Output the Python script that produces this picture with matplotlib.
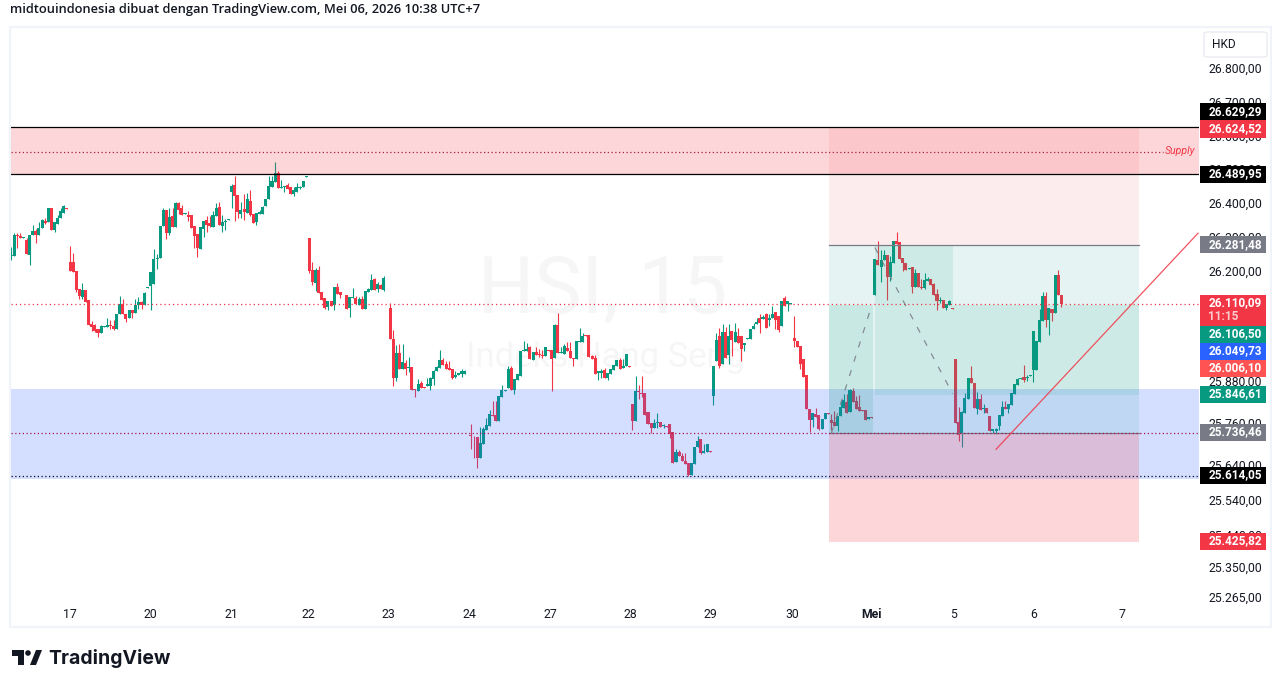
import numpy as np
import matplotlib
matplotlib.use("Agg")
import matplotlib.pyplot as plt
from matplotlib.patches import Rectangle, FancyBboxPatch, Polygon, Ellipse
from matplotlib.transforms import ScaledTranslation

plt.rcParams['font.family'] = ['Roboto', 'DejaVu Sans']

# 15 minute candles
opens = [
    26251, 26251, 26311, 26308, 26304, 26298, 26254, 26312, 26324, 26312,
    26333, 26353, 26350, 26391, 26327, 26344, 26362, 26377, 26391, 26233,
    26233, 26207, 26154, 26131, 26151, 26122, 26052, 26049, 26037, 26026,
    26044, 26044, 26049, 26046, 26037, 26081, 26110, 26081, 26070, 26093,
    26084, 26108, 26116, 26108, 26157, 26163, 26169, 26242, 26245, 26339,
    26385, 26318, 26368, 26336, 26406, 26391, 26374, 26371, 26371, 26339,
    26314, 26271, 26330, 26356, 26347, 26336, 26368, 26394, 26339, 26350,
    26356, 26438, 26459, 26429, 26374, 26388, 26377, 26412, 26374, 26350,
    26374, 26374, 26397, 26418, 26453, 26467, 26494, 26450, 26453, 26459,
    26453, 26432, 26438, 26449, 26453, 26482,
    26303, 26210, 26172, 26210, 26145, 26128, 26102, 26119, 26108, 26160,
    26145, 26137, 26137, 26099, 26128, 26128, 26108, 26125, 26096, 26145,
    26151, 26183, 26154, 26166, 26151, 26163, 26099, 26009, 25895, 25968,
    25921, 25939, 25924, 25927, 25863, 25857, 25881, 25869, 25872, 25872,
    25892, 25916, 25924, 25948, 25936, 25924, 25921, 25898, 25904, 25907,
    25907, 25916, 25732, 25729, 25724, 25665, 25706, 25744, 25756, 25788,
    25788, 25770, 25840, 25857, 25866, 25924, 25860, 25889, 25901, 25974,
    25974, 25984, 25948, 25971, 25963, 25963, 25959, 25977, 25977, 25954,
    26049, 25968, 25965, 25983, 25974,
    25954, 25951, 26000, 26000, 26020, 26020, 25960, 25952, 25911, 25911,
    25917, 25894, 25906, 25917, 25931, 25946, 25923, 25929, 25929, 25820,
    25771, 25857, 25851, 25851, 25796, 25765, 25751, 25765, 25768, 25757,
    25757, 25763, 25740, 25654, 25682, 25671, 25657, 25651, 25617, 25648,
    25697, 25720, 25680, 25682, 25685, 25843, 25943, 26017, 25937, 26029,
    25963, 26032, 26000, 26017, 26017, 25992, 26009, 26009, 26037, 26052,
    26069, 26066, 26080, 26063, 26069, 26086, 26075, 26046, 26126, 26109,
    26110, 26012, 26003, 25989, 25949, 25903, 25806, 25774, 25791, 25788,
    25748, 25777, 25794,
    25774, 25768, 25757, 25785, 25808, 25826, 25797, 25857, 25828, 25811,
    25803, 25803, 25777, 25783, 26135, 26238, 26218, 26238, 26252, 26189,
    26229, 26295, 26292, 26243, 26229, 26212, 26218, 26160, 26200, 26160,
    26158, 26178, 26183, 26169, 26138, 26120, 26123, 26097, 26106, 26097,
    25949, 25768, 25737, 25794, 25834, 25894, 25880, 25806, 25834, 25806,
    25808, 25785, 25743, 25743, 25757, 25785, 25811, 25806, 25817, 25848,
    25874, 25891, 25897, 25894, 25901, 25917, 25917, 26000, 26060, 26132,
    26063, 26095, 26083, 26195, 26135,
]
highs = [
    26277, 26319, 26319, 26319, 26306, 26303, 26312, 26342, 26330, 26350,
    26359, 26363, 26391, 26391, 26350, 26371, 26392, 26400, 26391, 26280,
    26260, 26207, 26154, 26172, 26151, 26122, 26061, 26051, 26037, 26049,
    26046, 26070, 26064, 26064, 26081, 26134, 26125, 26081, 26093, 26093,
    26125, 26131, 26119, 26146, 26160, 26204, 26271, 26257, 26339, 26390,
    26385, 26391, 26391, 26409, 26409, 26400, 26377, 26382, 26371, 26339,
    26314, 26336, 26353, 26368, 26368, 26382, 26406, 26409, 26371, 26358,
    26359, 26461, 26485, 26429, 26409, 26431, 26435, 26444, 26374, 26377,
    26384, 26397, 26419, 26485, 26485, 26526, 26500, 26475, 26456, 26464,
    26453, 26453, 26464, 26456, 26470, 26485,
    26303, 26233, 26215, 26221, 26145, 26128, 26119, 26119, 26160, 26172,
    26145, 26137, 26137, 26131, 26157, 26134, 26131, 26134, 26148, 26157,
    26198, 26186, 26175, 26169, 26192, 26163, 26114, 26035, 25991, 25994,
    25994, 25948, 25956, 25927, 25863, 25892, 25887, 25869, 25895, 25898,
    25919, 25930, 25977, 25953, 25945, 25945, 25921, 25916, 25910, 25921,
    25919, 25916, 25762, 25729, 25724, 25753, 25753, 25779, 25802, 25828,
    25828, 25843, 25875, 25860, 25930, 25930, 25892, 25907, 25974, 26003,
    25997, 25988, 25971, 25985, 25980, 25977, 25985, 25977, 25977, 26052,
    26084, 25985, 25994, 26000, 26000,
    25954, 26003, 26040, 26026, 26020, 26020, 25963, 25963, 25914, 25920,
    25923, 25909, 25920, 25934, 25946, 25952, 25949, 25966, 25929, 25820,
    25900, 25874, 25900, 25851, 25796, 25765, 25777, 25794, 25768, 25763,
    25757, 25763, 25740, 25691, 25688, 25680, 25680, 25651, 25651, 25697,
    25728, 25720, 25705, 25705, 25685, 25931, 26026, 26040, 26052, 26043,
    26052, 26032, 26055, 26040, 26017, 25997, 26012, 26037, 26055, 26069,
    26080, 26077, 26083, 26080, 26103, 26086, 26075, 26120, 26132, 26120,
    26112, 26075, 26003, 25989, 25949, 25903, 25806, 25794, 25808, 25788,
    25777, 25794, 25794,
    25791, 25800, 25785, 25828, 25848, 25848, 25863, 25866, 25843, 25846,
    25803, 25803, 25783, 25783, 26241, 26295, 26269, 26269, 26252, 26249,
    26295, 26321, 26292, 26243, 26229, 26215, 26218, 26212, 26200, 26183,
    26200, 26189, 26183, 26172, 26155, 26129, 26123, 26109, 26123, 26097,
    25949, 25811, 25800, 25851, 25894, 25931, 25880, 25854, 25848, 25820,
    25808, 25785, 25748, 25751, 25788, 25828, 25828, 25820, 25851, 25877,
    25894, 25894, 25934, 25903, 25903, 26032, 26003, 26096, 26146, 26146,
    26097, 26095, 26195, 26209, 26135,
]
lows = [
    26238, 26251, 26275, 26304, 26304, 26257, 26225, 26312, 26289, 26312,
    26333, 26344, 26350, 26327, 26321, 26344, 26362, 26377, 26389, 26207,
    26204, 26146, 26125, 26125, 26116, 26049, 26032, 26029, 26014, 26026,
    26044, 26044, 26037, 26034, 26037, 26081, 26081, 26058, 26070, 26070,
    26084, 26096, 26096, 26108, 26157, 26093, 26169, 26213, 26245, 26339,
    26301, 26312, 26336, 26336, 26373, 26371, 26374, 26353, 26333, 26274,
    26248, 26271, 26306, 26321, 26336, 26336, 26368, 26342, 26321, 26327,
    26356, 26391, 26353, 26362, 26362, 26356, 26377, 26368, 26347, 26342,
    26374, 26374, 26397, 26418, 26453, 26467, 26450, 26450, 26438, 26447,
    26432, 26426, 26438, 26447, 26453, 26482,
    26201, 26166, 26148, 26143, 26122, 26096, 26093, 26105, 26093, 26140,
    26128, 26135, 26096, 26073, 26128, 26111, 26108, 26096, 26096, 26145,
    26151, 26151, 26145, 26154, 26148, 26161, 26009, 25872, 25887, 25921,
    25921, 25904, 25913, 25860, 25840, 25857, 25866, 25866, 25872, 25860,
    25875, 25916, 25924, 25933, 25921, 25919, 25892, 25895, 25904, 25898,
    25907, 25914, 25692, 25665, 25636, 25665, 25706, 25744, 25756, 25785,
    25770, 25770, 25840, 25857, 25866, 25860, 25849, 25889, 25901, 25974,
    25974, 25951, 25948, 25962, 25956, 25953, 25959, 25974, 25857, 25954,
    25968, 25968, 25965, 25974, 25953,
    25931, 25951, 26000, 26000, 26017, 25957, 25949, 25906, 25889, 25894,
    25894, 25889, 25906, 25917, 25931, 25920, 25923, 25929, 25927, 25745,
    25771, 25834, 25840, 25788, 25763, 25736, 25751, 25751, 25754, 25751,
    25755, 25723, 25651, 25654, 25671, 25657, 25648, 25614, 25617, 25648,
    25697, 25677, 25680, 25682, 25682, 25817, 25943, 25923, 25937, 25954,
    25937, 25960, 26000, 25997, 25943, 25974, 26009, 26009, 26037, 26052,
    26026, 26066, 26040, 26046, 26069, 26037, 26029, 26046, 26103, 26089,
    26110, 25986, 25986, 25920, 25897, 25806, 25740, 25754, 25783, 25745,
    25748, 25777, 25792,
    25745, 25757, 25743, 25785, 25808, 25794, 25797, 25826, 25806, 25800,
    25800, 25774, 25777, 25781, 26135, 26223, 26175, 26238, 26123, 26178,
    26229, 26286, 26241, 26206, 26209, 26212, 26143, 26160, 26160, 26154,
    26154, 26178, 26166, 26135, 26092, 26112, 26097, 26092, 26106, 26096,
    25765, 25714, 25697, 25794, 25834, 25880, 25808, 25791, 25803, 25794,
    25794, 25743, 25737, 25734, 25745, 25785, 25806, 25794, 25817, 25848,
    25874, 25891, 25883, 25886, 25901, 25883, 25917, 26000, 26060, 26043,
    26020, 26060, 26083, 26135, 26100,
]
closes = [
    26254, 26312, 26308, 26304, 26306, 26257, 26312, 26324, 26312, 26333,
    26356, 26347, 26391, 26327, 26350, 26362, 26382, 26397, 26389, 26207,
    26204, 26151, 26134, 26151, 26116, 26049, 26043, 26032, 26026, 26046,
    26046, 26049, 26045, 26037, 26081, 26110, 26081, 26067, 26093, 26084,
    26108, 26116, 26108, 26143, 26160, 26204, 26242, 26245, 26339, 26385,
    26318, 26365, 26336, 26406, 26385, 26371, 26377, 26365, 26333, 26309,
    26274, 26336, 26353, 26342, 26339, 26371, 26391, 26342, 26350, 26354,
    26359, 26456, 26426, 26380, 26385, 26380, 26418, 26371, 26347, 26377,
    26380, 26394, 26419, 26456, 26470, 26494, 26450, 26453, 26456, 26447,
    26432, 26444, 26453, 26453, 26470, 26485,
    26207, 26175, 26210, 26143, 26122, 26099, 26119, 26105, 26160, 26140,
    26137, 26135, 26096, 26131, 26131, 26111, 26125, 26096, 26148, 26154,
    26180, 26151, 26169, 26154, 26186, 26161, 26009, 25895, 25968, 25921,
    25942, 25921, 25927, 25860, 25860, 25878, 25866, 25866, 25878, 25895,
    25916, 25927, 25948, 25933, 25921, 25919, 25895, 25904, 25910, 25916,
    25916, 25914, 25727, 25727, 25665, 25709, 25747, 25759, 25791, 25785,
    25770, 25843, 25860, 25860, 25921, 25860, 25892, 25907, 25974, 25977,
    25980, 25951, 25971, 25962, 25961, 25960, 25985, 25974, 25951, 26049,
    25968, 25971, 25988, 25974, 25953,
    25951, 26003, 26003, 26017, 26017, 25957, 25949, 25906, 25914, 25914,
    25894, 25909, 25920, 25934, 25946, 25920, 25931, 25966, 25927, 25771,
    25857, 25854, 25848, 25788, 25763, 25751, 25765, 25767, 25754, 25760,
    25755, 25734, 25651, 25682, 25671, 25657, 25648, 25617, 25651, 25697,
    25714, 25680, 25685, 25705, 25682, 25929, 26006, 25931, 26029, 25954,
    26017, 26006, 26029, 25997, 25980, 25997, 26012, 26037, 26046, 26057,
    26055, 26072, 26040, 26069, 26080, 26063, 26034, 26120, 26103, 26118,
    26112, 26003, 25986, 25937, 25897, 25806, 25774, 25794, 25783, 25748,
    25777, 25794, 25792,
    25765, 25757, 25785, 25811, 25831, 25794, 25860, 25826, 25806, 25800,
    25800, 25774, 25783, 25781, 26241, 26223, 26238, 26252, 26189, 26232,
    26295, 26286, 26241, 26229, 26209, 26215, 26160, 26200, 26160, 26157,
    26180, 26183, 26166, 26135, 26118, 26123, 26097, 26109, 26120, 26096,
    25765, 25731, 25797, 25837, 25894, 25880, 25808, 25834, 25803, 25808,
    25794, 25743, 25748, 25748, 25788, 25811, 25806, 25820, 25851, 25877,
    25891, 25894, 25889, 25897, 25903, 26032, 26003, 26063, 26132, 26063,
    26097, 26083, 26195, 26135, 26109,
]

# axis texts
price_ticks = [26800, 26700, 26600, 26500, 26400, 26300, 26200, 25880, 25760, 25640, 25540, 25440, 25350, 25265]
day_labels = ['17', '20', '21', '22', '23', '24', '27', '28', '29', '30', 'Mei', '5', '6', '7']
day_ticks = [19, 44.7, 70.8, 95.6, 121.3, 147.4, 173.5, 199.2, 225, 251.4, 277, 303.2, 329, 357.6]

# levels on the chart
supply_top = 26629.29
supply_bottom = 26489.95
supply_mid = 26556
demand_top = 25862
demand_bottom = 25605
last_price = 26110.09
mid_level = 25736.46
low_level = 25614.05
target_price = 26281.48
stop_price = 25425.82
inner_top = 26106.50
inner_bottom = 25846.61

# position box and drawings, bar index / price
box_left, box_split, box_mid, box_right = 263.3, 277.4, 303.2, 363
path_up_x = [264, 277]
path_up_y = [25736, 26106]
path_down_x = [278, 303]
path_down_y = [26275, 25850]
trend_x = [317, 382]
trend_y = [25690, 26317]

# price badges: text, colour, y of the badge in the picture
badges = [
    ('26.629,29', '#000000', 112),
    ('26.624,52', '#F23645', 129),
    ('26.489,95', '#000000', 174),
    ('26.281,48', '#787B86', 245),
    ('26.106,50', '#089981', 334),
    ('26.049,73', '#2962FF', 351),
    ('26.006,10', '#FF5252', 368),
    ('25.846,61', '#089981', 394),
    ('25.736,46', '#787B86', 432),
    ('25.614,05', '#000000', 475),
    ('25.425,82', '#F23645', 541),
]

W, H = 1281, 688
GREEN, RED = '#089981', '#F23645'


def fx(px):
    return px / W


def fy(py):
    return 1 - py / H


fig = plt.figure(figsize=(W / 100, H / 100), dpi=100)
ax = fig.add_axes([fx(11), fy(602), fx(1199) - fx(11), (602 - 28) / H])

o = np.array(opens, dtype=float)
h = np.array(highs, dtype=float)
l = np.array(lows, dtype=float)
c = np.array(closes, dtype=float)
x = np.arange(len(o))
colors = [GREEN if a >= b else RED for a, b in zip(c, o)]

ax.vlines(x, l, h, colors=colors, linewidth=0.8, zorder=3)
ax.bar(x, np.maximum(np.abs(c - o), 2.5), bottom=np.minimum(o, c), width=0.98, color=colors, linewidth=0, zorder=3)

ax.set_yscale('log')
ax.set_ylim(25256, 26926.5)
ax.set_xlim(0, (1199 - 11) / ((1061.3 - 11) / (len(o) - 1)))
ax.minorticks_off()
ax.yaxis.tick_right()
ax.set_yticks(price_ticks)
ax.set_yticklabels([f'{p:,.2f}'.replace(',', ' ').replace('.', ',').replace(' ', '.') for p in price_ticks])
ax.tick_params(axis='y', length=0, pad=6.5, labelsize=8.8, labelcolor='#131722', which='both')
ax.yaxis.set_minor_formatter(plt.NullFormatter())
# the price labels sit about 2 px above their level in the reference
for lab in ax.get_yticklabels():
    lab.set_transform(lab.get_transform() + ScaledTranslation(0, 2 / 100, fig.dpi_scale_trans))
ax.set_xticks(day_ticks)
ax.set_xticklabels(day_labels)
ax.tick_params(axis='x', length=0, pad=4, labelsize=8.8, labelcolor='#131722')
ax.get_xticklabels()[10].set_fontweight('bold')
for s in ax.spines.values():
    s.set_visible(False)

# zones over the candles
ax.axhspan(supply_bottom, supply_top, color=RED, alpha=0.2, lw=0, zorder=4)
ax.axhspan(demand_bottom, demand_top, color='#2962FF', alpha=0.2, lw=0, zorder=4)
ax.axhline(supply_top, color='black', lw=0.9, zorder=6)
ax.axhline(supply_bottom, color='black', lw=0.9, zorder=6)
ax.plot([0, 370.8], [supply_mid, supply_mid], color='#A8203C', lw=0.9, ls=(0, (1, 2)), zorder=6)
ax.axhline(last_price, color=RED, lw=0.9, ls=(0, (1, 2.4)), zorder=6)
ax.axhline(mid_level, color='#A5104F', lw=0.9, ls=(0, (1, 2)), zorder=6)
ax.axhline(low_level, color='#0B0B30', lw=0.9, ls=(0, (1, 2)), zorder=6)

# position box
ax.fill_between([box_left, box_right], target_price, supply_top, color=RED, alpha=0.09, lw=0, zorder=4)
ax.fill_between([box_left, box_right], stop_price, mid_level, color=RED, alpha=0.2, lw=0, zorder=4)
ax.fill_between([box_left, box_right], mid_level, target_price, color=GREEN, alpha=0.1, lw=0, zorder=4)
ax.fill_between([box_left, box_split], mid_level, inner_top, color=GREEN, alpha=0.13, lw=0, zorder=4)
ax.fill_between([box_split + 0.6, box_mid], inner_bottom, target_price, color=GREEN, alpha=0.1, lw=0, zorder=4)
ax.fill_between([box_mid, box_right], inner_bottom, inner_top, color=GREEN, alpha=0.1, lw=0, zorder=4)
ax.plot([box_left, box_right], [target_price, target_price], color='#787B86', lw=0.9, zorder=5)
ax.plot([box_left, box_right], [mid_level, mid_level], color='#787B86', lw=0.9, zorder=5)

ax.plot(path_up_x, path_up_y, color='#787B86', lw=0.9, alpha=0.85, ls=(0, (5, 7)), zorder=6)
ax.plot(path_down_x, path_down_y, color='#787B86', lw=0.9, alpha=0.85, ls=(0, (5, 7)), zorder=6)
ax.plot(trend_x, trend_y, color=RED, lw=0.9, alpha=0.85, zorder=6)

# watermark
fig.text(fx(603), fy(290), 'HSI, 15', color='#F6F6F7', fontsize=57, ha='center', va='center', zorder=-1)
fig.text(fx(606), fy(357), 'Indeks Hang Seng', color='#F6F6F7', fontsize=25, ha='center', va='center', zorder=-1)
ax.patch.set_alpha(0)

# outer frame and price axis box
fig.add_artist(Rectangle((fx(10), fy(627)), fx(1261), 600 / H, fill=False, ec='#F0F3FA', lw=1.5, transform=fig.transFigure))
fig.add_artist(FancyBboxPatch((fx(1204), fy(57)), fx(63), 25 / H, boxstyle='round,pad=0,rounding_size=0.004',
                              mutation_aspect=H / W, fc='white', ec='#E9ECF2', lw=1, transform=fig.transFigure, zorder=5))
fig.text(fx(1212), fy(44.5), 'HKD', fontsize=8.6, color='#131722', va='center', zorder=6)
fig.text(fx(1180.5), fy(151.5), 'Supply', fontsize=7.6, style='italic', color=RED, ha='center', va='center', zorder=7)

# badges
for txt, col, yc in badges:
    fig.add_artist(Rectangle((fx(1200), fy(yc + 8.5)), fx(66), 17 / H, fc=col, ec='none', transform=fig.transFigure, zorder=8))
    fig.text(fx(1235), fy(yc), txt, color='white', fontsize=8.5, fontweight='bold', ha='center', va='center', zorder=9)
fig.add_artist(Rectangle((fx(1200), fy(326)), fx(66), 31 / H, fc=RED, ec='none', transform=fig.transFigure, zorder=8))
fig.text(fx(1235), fy(303), '26.110,09', color='white', fontsize=8.5, fontweight='bold', ha='center', va='center', zorder=9)
fig.text(fx(1208), fy(317), '11:15', color='#FCCBCD', fontsize=8.5, fontweight='bold', ha='left', va='center', zorder=9)

# header and logo
fig.text(fx(10), fy(9), 'midtouindonesia dibuat dengan TradingView.com, Mei 06, 2026 10:38 UTC+7',
         fontsize=9.3, family='Open Sans', fontweight='semibold', color='#131722', va='center')
logo = '#131722'
fig.add_artist(Polygon([(fx(12), fy(650)), (fx(23.5), fy(650)), (fx(23.5), fy(665)), (fx(17.5), fy(665)),
                        (fx(17.5), fy(655.5)), (fx(12), fy(655.5))], fc=logo, ec='none', transform=fig.transFigure))
fig.add_artist(Polygon([(fx(36), fy(650)), (fx(42), fy(650)), (fx(36), fy(665)), (fx(30), fy(665))],
                       fc=logo, ec='none', transform=fig.transFigure))
fig.add_artist(Ellipse((fx(28), fy(653)), 5.6 / W, 5.6 / H, fc=logo, ec='none', transform=fig.transFigure))
fig.text(fx(48), fy(658), 'TradingView', fontsize=14, family='Inter', fontweight='bold', color=logo, va='center')

fig.savefig('out.png', dpi=100)
